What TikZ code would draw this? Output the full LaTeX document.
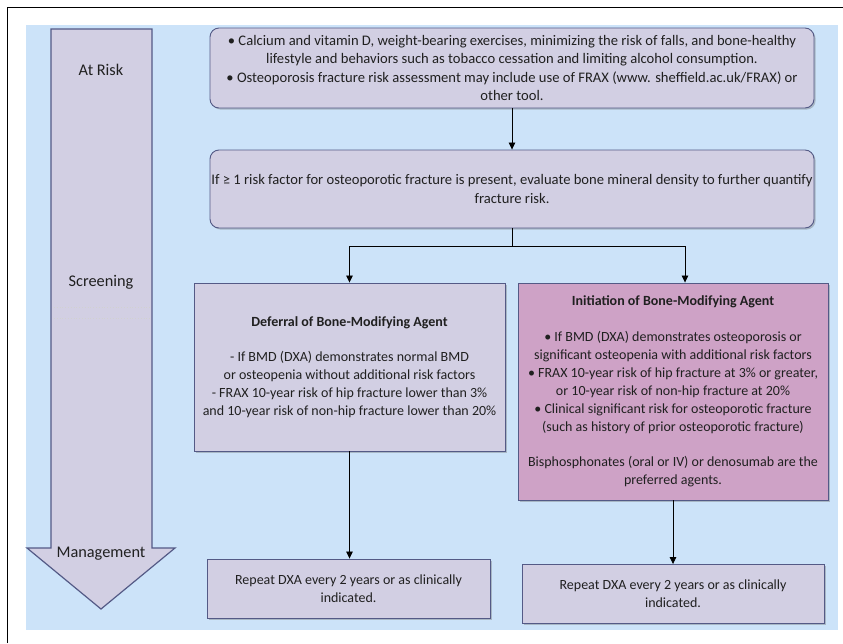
\documentclass[tikz,border=0pt]{standalone}
\usepackage{fontspec}
\setmainfont{Carlito}
\usetikzlibrary{arrows.meta,shadows,calc}
\definecolor{bgblue}{HTML}{CCE3F9}
\definecolor{lav}{HTML}{D2CFE3}
\definecolor{pinkbox}{HTML}{CEA2C6}
\definecolor{edgeblue}{HTML}{545A86}
\definecolor{txt}{HTML}{202020}
\begin{document}
\begin{tikzpicture}[x=1pt,y=-1pt,
  box/.style={draw=edgeblue, line width=0.9pt, fill=lav, align=center,
    inner sep=0pt, text=txt, font=\fontsize{14}{17.9}\selectfont,
    drop shadow={shadow xshift=1.6pt, shadow yshift=-1.6pt, opacity=0.35, fill=black!60}},
  bigtext/.style={font=\fontsize{14.6}{18.6}\selectfont},
  stagelabel/.style={text=txt, font=\fontsize{16.3}{19}\selectfont, inner sep=0pt},
  flow/.style={draw=black, line width=0.8pt},
  flowarrow/.style={flow, -{Triangle[length=7pt,width=6.5pt]}}]
\useasboundingbox (0,0) rectangle (843,643);
% page frame
\draw[black, line width=0.9pt] (7.5,643) -- (7.5,7.5) -- (843,7.5);
% panel background
\fill[bgblue] (26,25) rectangle (838,630);
% stage arrow on the left
\draw[edgeblue, line width=1.2pt, fill=lav, line join=miter]
  (51,29) -- (152,29) -- (152,548) -- (175,548) -- (101,609) -- (27,548) -- (51,548) -- cycle;
\draw[black!18, line width=0.8pt, dotted] (54,307) -- (150,307);
\draw[black!18, line width=0.8pt, dotted] (54,318) -- (150,318);
\node[stagelabel] (atrisk) at (101,70) {At Risk};
\node[stagelabel] (screening) at (101,282) {Screening};
\node[stagelabel] (management) at (101,554) {Management};
% flow boxes
\node[box, bigtext, rounded corners=9pt, minimum width=604pt, minimum height=80pt] (risk) at (512,68)
  {• Calcium and vitamin D, weight-bearing exercises, minimizing the risk of falls, and bone-healthy\\
   lifestyle and behaviors such as tobacco cessation and limiting alcohol consumption.\\
   • Osteoporosis fracture risk assessment may include use of FRAX (www. sheffield.ac.uk/FRAX) or\\
   other tool.};
\node[box, bigtext, rounded corners=9pt, minimum width=604pt, minimum height=78pt] (bmd) at (512,189)
  {If ≥ 1 risk factor for osteoporotic fracture is present, evaluate bone mineral density to further quantify\\
   fracture risk.};
\node[box, minimum width=311pt, minimum height=168pt] (defer) at (349.5,367)
  {\textbf{Deferral of Bone-Modifying Agent}\\[17.9pt]
   - If BMD (DXA) demonstrates normal BMD\\
   or osteopenia without additional risk factors\\
   - FRAX 10-year risk of hip fracture lower than 3\%\\
   and 10-year risk of non-hip fracture lower than 20\%};
\node[box, fill=pinkbox, minimum width=310pt, minimum height=217pt] (init) at (673,391.5)
  {\textbf{Initiation of Bone-Modifying Agent}\\[17.9pt]
   • If BMD (DXA) demonstrates osteoporosis or\\
   significant osteopenia with additional risk factors\\
   • FRAX 10-year risk of hip fracture at 3\% or greater,\\
   or 10-year risk of non-hip fracture at 20\%\\
   • Clinical significant risk for osteoporotic fracture\\
   (such as history of prior osteoporotic fracture)\\[17.9pt]
   Bisphosphonates (oral or IV) or denosumab are the\\
   preferred agents.};
\node[box, minimum width=283pt, minimum height=59pt] (repeatL) at (348.5,588.5)
  {Repeat DXA every 2 years or as clinically\\ indicated.};
\node[box, minimum width=302pt, minimum height=59pt] (repeatR) at (673,594)
  {Repeat DXA every 2 years or as clinically\\ indicated.};
% connectors
\coordinate (split) at (512,246);
\coordinate (initin) at ($(init.north)+(12pt,0)$);
\draw[flowarrow] (risk.south) -- (bmd.north);
\draw[flow] (bmd.south) -- (split);
\draw[flowarrow] (split) -| (defer.north);
\draw[flowarrow] (split) -| (initin);
\draw[flowarrow] (defer.south) -- (defer.south |- repeatL.north);
\draw[flowarrow] (init.south) -- (repeatR.north);
\end{tikzpicture}
\end{document}
